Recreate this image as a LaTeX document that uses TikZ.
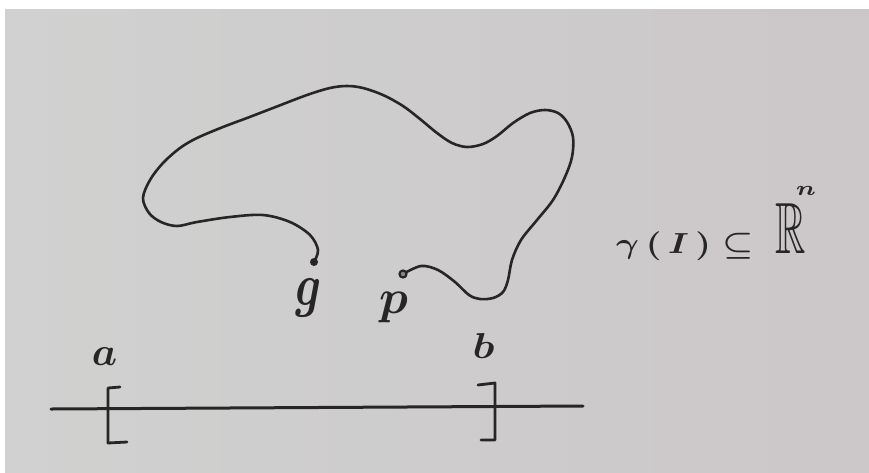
\documentclass[tikz,border=0pt]{standalone}
\usepackage{amssymb}
\usepackage{graphicx}
\definecolor{paperL}{HTML}{D0D1D0}
\definecolor{paperR}{HTML}{CCC7C9}
\definecolor{ink}{HTML}{262626}
\tikzset{
  curve/.style={draw=ink, line width=2.6pt, line cap=round, line join=round},
  axis/.style={draw=ink, line width=3pt, line cap=round},
  brk/.style={draw=ink, line width=2.8pt, line cap=round, line join=round},
  lbl/.style={inner sep=0pt, text=ink},
}
\begin{document}
\begin{tikzpicture}[x=1pt,y=-1pt]
\useasboundingbox (0,0) rectangle (869,472);
\fill[white] (0,0) rectangle (869,472);
\shade[left color=paperL, right color=paperR] (5,9) rectangle (869,472);

% curve endpoints
\coordinate (gstart) at (314,262);
\coordinate (pstart) at (403,274);

% the curve gamma(I)
\path[curve] plot[smooth, tension=0.55] coordinates {
 (gstart) (318,250) (310,235) (290,222) (263,215) (230,217) (197,222)
 (177,226) (161,222) (149,213) (143,198) (150,180) (163,163) (180,148)
 (197,138) (223,127) (247,118) (273,108) (307,95) (330,88) (347,86)
 (363,88) (383,95) (403,106) (420,119) (437,133) (452,143) (467,147)
 (483,144) (497,136) (513,123) (530,113) (545,110) (558,113) (567,122)
 (573,137) (572,157) (565,177) (553,200) (537,220) (521,240) (512,260)
 (508,280) (503,292) (493,298) (480,299) (469,295) (455,282) (438,270)
 (421,266) (pstart)};

% endpoint dots
\node[circle, fill=ink, inner sep=0pt, minimum size=8pt] (gdot) at (gstart) {};
\node[circle, draw=ink, fill=ink!55, line width=2.2pt, inner sep=0pt, minimum size=7pt] (pdot) at (pstart) {};

% labels of the endpoints
\node[lbl] (glab) at (308.5,297.5) {\scalebox{4.5}[6]{\boldmath$g$}};
\node[lbl] (plab) at (393.5,307) {\scalebox{4.8}{\boldmath$p$}};

% gamma(I) subset R^n
\node[lbl, anchor=base west] (img) at (616,253)
  {\scalebox{3.5}[2.9]{\boldmath$\gamma\,(\,I\,)\;\mathord{\subseteq}\;\;\mathord{\scalebox{1.2}[2.5]{$\mathbb{R}$}}^{\raisebox{5pt}{\hspace{-3pt}$\scriptstyle n$}}$}};

% the interval
\coordinate (lineL) at (51,409);
\coordinate (lineR) at (583,406);
\path[axis] (lineL) -- (lineR);
\path[brk] (120,387) -- (108,388) -- (108,443) -- (127,442);
\path[brk] (478,385) -- (495,383) -- (495,440) -- (481,440);

\node[lbl] (alab) at (104.5,356.5) {\scalebox{4}{\boldmath$a$}};
\node[lbl] (blab) at (483.5,345.5) {\scalebox{4.2}[3.6]{\boldmath$b$}};
\end{tikzpicture}
\end{document}
